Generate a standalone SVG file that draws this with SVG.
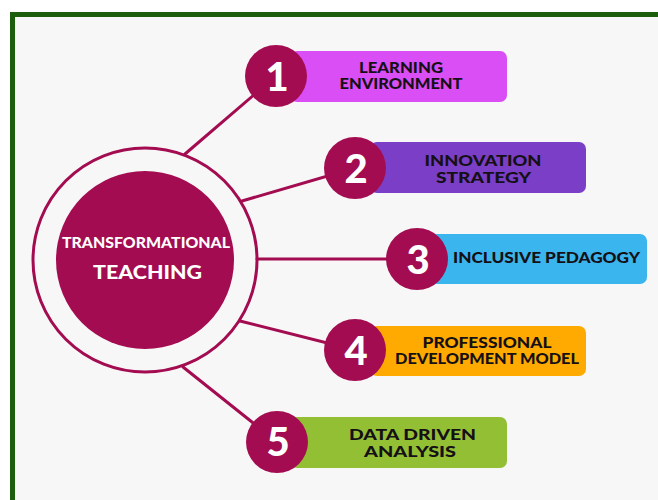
<svg xmlns="http://www.w3.org/2000/svg" width="658" height="500" viewBox="0 0 658 500">
<style>
.frame{fill:#f7f7f7;stroke:#1b5e0b;stroke-width:5}
.conn line{stroke:#a30c50;stroke-width:3;stroke-linecap:round}
.num{fill:#a30c50}
.numt{fill:#fff;font-family:"Lato","Liberation Sans",sans-serif;font-weight:900;font-size:40px;text-anchor:middle}
.lbl{fill:#151015;font-family:"Lato","Liberation Sans",sans-serif;font-weight:900;font-size:15.5px;text-anchor:middle}
.sm{font-size:14.5px}
.ttl{fill:#fff;font-family:"Lato","Liberation Sans",sans-serif;font-weight:900;text-anchor:middle}
</style>
<rect width="658" height="500" fill="#ffffff"/>
<rect class="frame" x="12.5" y="14.5" width="700" height="520"/>
<g id="connectors" class="conn">
<line x1="185" y1="154" x2="276" y2="76"/>
<line x1="242" y1="201" x2="355" y2="168"/>
<line x1="257" y1="259" x2="417" y2="259"/>
<line x1="240" y1="321" x2="355" y2="350"/>
<line x1="183" y1="367" x2="277" y2="442"/>
</g>
<g id="center">
<circle cx="145" cy="260" r="112" fill="none" stroke="#a30c50" stroke-width="3"/>
<circle cx="145" cy="260" r="89" fill="#a30c50"/>
<text class="ttl" x="146" y="248" font-size="15" textLength="168" lengthAdjust="spacingAndGlyphs">TRANSFORMATIONAL</text>
<text class="ttl" x="147.5" y="279" font-size="19" textLength="109" lengthAdjust="spacingAndGlyphs">TEACHING</text>
</g>
<g id="node1">
<rect x="290" y="51" width="217" height="51" rx="7" fill="#d94ef5"/>
<circle class="num" cx="276" cy="76" r="31"/>
<text class="numt" x="277" y="91">1</text>
<text class="lbl" x="401" y="72.5" textLength="84" lengthAdjust="spacingAndGlyphs">LEARNING</text>
<text class="lbl" x="401" y="89" textLength="123" lengthAdjust="spacingAndGlyphs">ENVIRONMENT</text>
</g>
<g id="node2">
<rect x="370" y="142" width="216" height="51" rx="7" fill="#7b3fc7"/>
<circle class="num" cx="355" cy="168" r="31"/>
<text class="numt" x="356" y="183">2</text>
<text class="lbl" x="483" y="165.5" textLength="117" lengthAdjust="spacingAndGlyphs">INNOVATION</text>
<text class="lbl" x="483.5" y="182.5" textLength="95" lengthAdjust="spacingAndGlyphs">STRATEGY</text>
</g>
<g id="node3">
<rect x="430" y="234" width="217" height="50" rx="7" fill="#3bb5ee"/>
<circle class="num" cx="417" cy="259" r="31"/>
<text class="numt" x="418" y="274">3</text>
<text class="lbl" x="546.5" y="263" textLength="187" lengthAdjust="spacingAndGlyphs">INCLUSIVE PEDAGOGY</text>
</g>
<g id="node4">
<rect x="370" y="326" width="216" height="50" rx="7" fill="#ffaa00"/>
<circle class="num" cx="355" cy="350" r="31"/>
<text class="numt" x="356" y="365">4</text>
<text class="lbl sm" x="487" y="348" textLength="129" lengthAdjust="spacingAndGlyphs">PROFESSIONAL</text>
<text class="lbl sm" x="487" y="364" textLength="184" lengthAdjust="spacingAndGlyphs">DEVELOPMENT MODEL</text>
</g>
<g id="node5">
<rect x="290" y="417" width="217" height="51" rx="7" fill="#93bf35"/>
<circle class="num" cx="277" cy="442" r="31"/>
<text class="numt" x="278" y="456">5</text>
<text class="lbl" x="412.5" y="440" textLength="127" lengthAdjust="spacingAndGlyphs">DATA DRIVEN</text>
<text class="lbl" x="410" y="456.5" textLength="92" lengthAdjust="spacingAndGlyphs">ANALYSIS</text>
</g>
</svg>
